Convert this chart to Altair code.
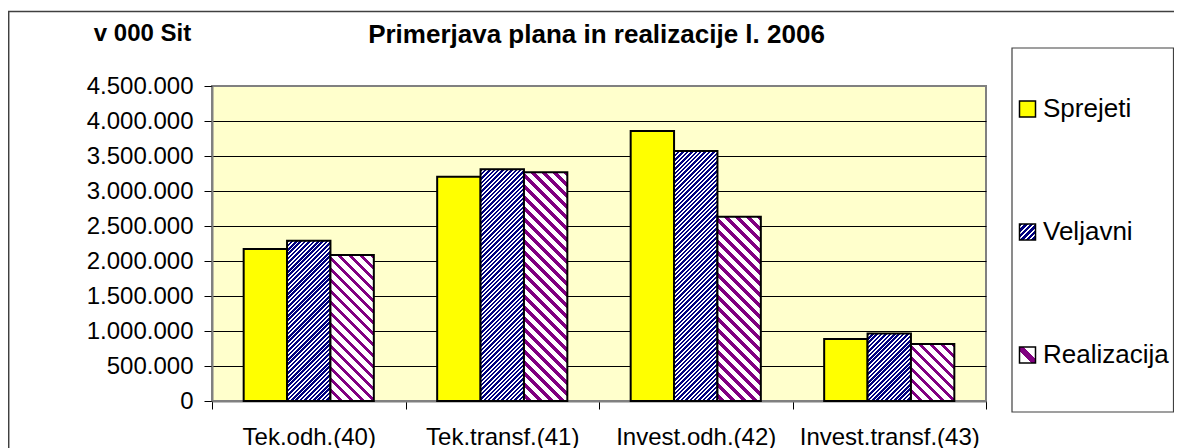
import altair as alt
import pandas as pd

# ---------------- data ----------------
categories = ["Tek.odh.(40)", "Tek.transf.(41)", "Invest.odh.(42)", "Invest.transf.(43)"]
series = ["Sprejeti", "Veljavni", "Realizacija"]
sprejeti = [2170000, 3204000, 3857000, 886000]
veljavni = [2290000, 3310000, 3571000, 963000]
realizacija = [2086000, 3267000, 2633000, 814000]
y_ticks = [0, 500000, 1000000, 1500000, 2000000, 2500000, 3000000, 3500000, 4000000, 4500000]
title_text = "Primerjava plana in realizacije l. 2006"
unit_text = "v 000 Sit"

# ---------------- layout / style ----------------
W, H = 774, 315
YMAX = 4500000
GROUP_PAD = 0.73
FONT = "Liberation Sans"
YELLOW = "#FFFF00"
NAVY = "#000080"
PURPLE = "#800080"
bar_w = (W / len(categories)) / (len(series) + 2 * GROUP_PAD)

rows = []
for i, c in enumerate(categories):
    for s, vals in zip(series, [sprejeti, veljavni, realizacija]):
        rows.append({"category": c, "series": s, "value": vals[i]})
df = pd.DataFrame(rows)


def hatch(w, h, period, ink, paper, frac, direction):
    """Diagonal stripe fill made from a linear gradient in bbox units."""
    L = w + h
    stops = []
    pos = 0.0
    while pos < L:
        a = round(pos / L, 6)
        b = round(min(pos + frac * period, L) / L, 6)
        c = round(min(pos + period, L) / L, 6)
        stops.append({"offset": a, "color": ink})
        stops.append({"offset": b, "color": ink})
        if b < 1:
            stops.append({"offset": b, "color": paper})
            stops.append({"offset": c, "color": paper})
        pos += period
    lam = L / (w * w + h * h)
    if direction == "/":
        return {"gradient": "linear", "x1": 0, "y1": 0,
                "x2": lam * w, "y2": lam * h, "stops": stops}
    return {"gradient": "linear", "x1": 1, "y1": 0,
            "x2": 1 - lam * w, "y2": lam * h, "stops": stops}


x_axis = alt.Axis(title=None, labelAngle=0, labelFont=FONT, labelFontSize=24,
                  labelColor="black", labelPadding=16, labelLimit=400, tickBand="extent",
                  tickSize=8, tickColor="black", tickWidth=1,
                  domainColor="#808080", domainWidth=2, grid=False)
y_axis = alt.Axis(title=None, values=y_ticks,
                  labelExpr="replace(format(datum.value, ','), regexp(',', 'g'), '.')",
                  labelFont=FONT, labelFontSize=24, labelColor="black", labelLimit=400,
                  labelPadding=11, tickSize=8, tickColor="black", tickWidth=1,
                  domainColor="#808080", domainWidth=2, grid=True, gridWidth=1,
                  gridColor={"condition": {"test": "datum.value == 0 || datum.value == 4500000",
                                           "value": "#808080"},
                             "value": "black"})

base = alt.Chart(df).encode(
    x=alt.X("category:N", scale=alt.Scale(domain=categories, paddingInner=0, paddingOuter=0),
            axis=x_axis),
    xOffset=alt.XOffset("series:N", scale=alt.Scale(domain=series, paddingInner=0,
                                                     paddingOuter=GROUP_PAD)),
    y=alt.Y("value:Q", scale=alt.Scale(domain=[0, YMAX], nice=False), axis=y_axis),
)

layers = []

one = pd.DataFrame({"a": [0]})
# outer chart frame
layers.append(alt.Chart(one).mark_rect(fill="white", fillOpacity=0, stroke="#404040",
                                       strokeWidth=1.5).encode(
    x=alt.value(-203.3), x2=alt.value(1100), y=alt.value(-74.5), y2=alt.value(500)))

layers.append(base.transform_filter(alt.datum.series == "Sprejeti").mark_bar(
    fill=YELLOW, stroke="black", strokeWidth=2))

for s, vals, ink, period, frac, d in [("Veljavni", veljavni, NAVY, 4.4, 0.56, "/"),
                                      ("Realizacija", realizacija, PURPLE, 11, 0.38, "\\")]:
    for c, v in zip(categories, vals):
        h = v / YMAX * H
        grad = hatch(bar_w, h, period, ink, "white", frac, d)
        layers.append(base.transform_filter(
            f"datum.series === '{s}' && datum.category === '{c}'").mark_bar(
            fill=grad, stroke="black", strokeWidth=2))

# legend box and entries
LEG_X0, LEG_X1, LEG_Y0, LEG_Y1 = 800, 961.5, -38, 326
layers.append(alt.Chart(one).mark_rect(fill="white", stroke="#404040", strokeWidth=1.2).encode(
    x=alt.value(LEG_X0), x2=alt.value(LEG_X1), y=alt.value(LEG_Y0), y2=alt.value(LEG_Y1)))

leg_fills = [
    YELLOW,
    hatch(16, 16, 5.5, NAVY, "white", 0.6, "/"),
    {"gradient": "linear", "x1": 1, "y1": 0, "x2": 0, "y2": 1,
     "stops": [{"offset": 0, "color": "white"}, {"offset": 0.38, "color": "white"},
               {"offset": 0.38, "color": PURPLE}, {"offset": 0.62, "color": PURPLE},
               {"offset": 0.62, "color": "white"}, {"offset": 1, "color": "white"}]},
]
LEG_STEP = 123
for i, s in enumerate(series):
    yy = 23 + i * LEG_STEP
    layers.append(alt.Chart(pd.DataFrame({"t": [s]})).mark_square(
        size=256, fill=leg_fills[i], stroke="black", strokeWidth=1.5, opacity=1).encode(
        x=alt.value(815.5), y=alt.value(yy)))
    layers.append(alt.Chart(pd.DataFrame({"t": [s]})).mark_text(
        font=FONT, fontSize=26, align="left", baseline="middle", color="black").encode(
        text="t:N", x=alt.value(831), y=alt.value(yy)))

# titles
layers.append(alt.Chart(pd.DataFrame({"t": [title_text]})).mark_text(
    font=FONT, fontSize=26, fontWeight="bold", align="center", baseline="alphabetic",
    color="black").encode(text="t:N", x=alt.value(384.5), y=alt.value(-43)))
layers.append(alt.Chart(pd.DataFrame({"t": [unit_text]})).mark_text(
    font=FONT, fontSize=24, fontWeight="bold", align="center", baseline="alphabetic",
    color="black").encode(text="t:N", x=alt.value(-69.5), y=alt.value(-45)))

chart = alt.layer(*layers).properties(
    width=W, height=H,
    autosize=alt.AutoSizeParams(type="none"),
    padding={"left": 204, "top": 78, "right": 188, "bottom": 47},
    background="white",
).configure_view(fill="#FFFFCC", stroke="#808080", strokeWidth=2)

chart.save("out.html", embed_options={"renderer": "svg", "actions": False})
